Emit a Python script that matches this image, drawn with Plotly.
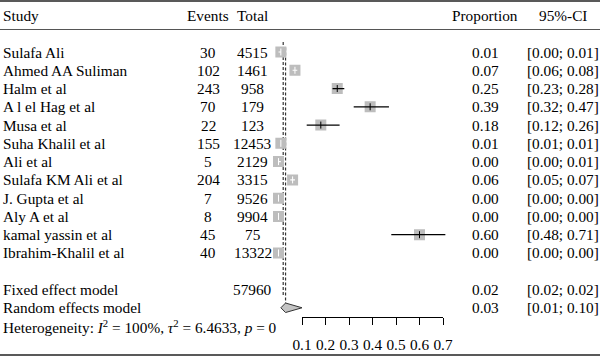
import plotly.graph_objects as go

# ---------------- data ----------------
studies = ["Sulafa Ali", "Ahmed AA Suliman", "Halm et al", "A l el Hag et al", "Musa et al",
           "Suha Khalil et al", "Ali et al", "Sulafa KM Ali et al", "J. Gupta et al",
           "Aly A et al", "kamal yassin et al", "Ibrahim-Khalil et al"]
events = [30, 102, 243, 70, 22, 155, 5, 204, 7, 8, 45, 40]
totals = [4515, 1461, 958, 179, 123, 12453, 2129, 3315, 9526, 9904, 75, 13322]
props = [0.01, 0.07, 0.25, 0.39, 0.18, 0.01, 0.00, 0.06, 0.00, 0.00, 0.60, 0.00]
ci_lo = [0.00, 0.06, 0.23, 0.32, 0.12, 0.01, 0.00, 0.05, 0.00, 0.00, 0.48, 0.00]
ci_hi = [0.01, 0.08, 0.28, 0.47, 0.26, 0.01, 0.01, 0.07, 0.00, 0.00, 0.71, 0.00]

model_names = ["Fixed effect model", "Random effects model"]
model_total = [57960, None]
model_est = [0.02, 0.03]
model_lo = [0.02, 0.01]
model_hi = [0.02, 0.10]

heterogeneity = ("Heterogeneity: <i>I</i><sup>2</sup> = 100%, "
                 "<i>τ</i><sup>2</sup> = 6.4633, <i>p</i> = 0")
axis_ticks = [0.1, 0.2, 0.3, 0.4, 0.5, 0.6, 0.7]
headers = ["Study", "Events", "Total", "Proportion", "95%-CI"]

# ---------------- layout helpers ----------------
W, H = 600, 356
FONT = "Liberation Serif, Times New Roman, serif"
FS = 15.3
ROW0, ROWH = 52.0, 18.27          # pixel y of first study row, row height


def px(x):
    return x / W


def py(y):
    return 1 - y / H


n = len(studies)
rows = list(range(n))
fixed_row = n + 1
random_row = n + 2
het_row = n + 3
header_row = -2

ZERO, SCALE = 278.5, 235.0        # pixel of proportion 0, pixels per unit
xr = [-0.05, 0.75]
x_dom = [px(ZERO + SCALE * xr[0]), px(ZERO + SCALE * xr[1])]
ax2_dom = [px(ZERO + SCALE * axis_ticks[0]), px(ZERO + SCALE * axis_ticks[-1])]
yr = [(H - ROW0) / ROWH, -ROW0 / ROWH]

BOX = 11
half_box = (BOX / 2) / SCALE

fig = go.Figure()

# dashed reference lines (fixed and random estimates)
fig.add_trace(go.Scatter(x=[model_est[0], model_est[0]], y=[-0.55, fixed_row + 0.4],
                         mode="lines", line=dict(color="#333", width=1.2, dash="3px,2px"),
                         hoverinfo="skip", showlegend=False))
fig.add_trace(go.Scatter(x=[model_est[1], model_est[1]], y=[-0.25, random_row - 0.25],
                         mode="lines", line=dict(color="#333", width=1.2, dash="3px,2px"),
                         hoverinfo="skip", showlegend=False))

# study boxes
fig.add_trace(go.Scatter(x=props, y=rows, mode="markers",
                         marker=dict(symbol="square", size=BOX, color="#bdbdbd",
                                     line=dict(width=0)),
                         hoverinfo="skip", showlegend=False))

# confidence intervals (white when inside the box)
for i in range(n):
    inside = ci_lo[i] >= props[i] - half_box and ci_hi[i] <= props[i] + half_box
    col = "white" if inside else "black"
    fig.add_trace(go.Scatter(x=[ci_lo[i], ci_hi[i]], y=[rows[i], rows[i]], mode="lines",
                             line=dict(color=col, width=1.2),
                             hoverinfo="skip", showlegend=False))
    fig.add_trace(go.Scatter(x=[props[i]], y=[rows[i]], mode="markers",
                             marker=dict(symbol="line-ns", size=5,
                                         line=dict(color=col, width=1)),
                             hoverinfo="skip", showlegend=False))

# diamonds
dh = 0.26
for j, r in enumerate([fixed_row, random_row]):
    fig.add_trace(go.Scatter(
        x=[model_lo[j], model_est[j], model_hi[j], model_est[j], model_lo[j]],
        y=[r, r - dh, r, r + dh, r],
        mode="lines", fill="toself", fillcolor="#c4c4c4",
        line=dict(color="#333", width=1 if model_hi[j] > model_lo[j] else 0),
        hoverinfo="skip", showlegend=False))

# dummy trace so that the visible axis is drawn
fig.add_trace(go.Scatter(x=[axis_ticks[0], axis_ticks[-1]], y=[random_row, random_row],
                         xaxis="x2", mode="markers", marker=dict(opacity=0),
                         hoverinfo="skip", showlegend=False))

# ---------------- text columns ----------------
ann = []
col_x = {"Study": (1, "left"), "Events": (208, "center"), "Total": (252.5, "center"),
         "Proportion": (485, "center"), "95%-CI": (562.5, "center")}


def txt(s, xpix, anchor, row):
    ann.append(dict(text=s, x=px(xpix), y=row, xref="paper", yref="y",
                    xanchor=anchor, yanchor="middle", showarrow=False,
                    font=dict(family=FONT, size=FS, color="black")))


for h in headers:
    txt(h, col_x[h][0], col_x[h][1], header_row)

for i in range(n):
    txt(studies[i], 1, "left", rows[i])
    txt(str(events[i]), col_x["Events"][0], "center", rows[i])
    txt(str(totals[i]), col_x["Total"][0], "center", rows[i])
    txt(f"{props[i]:.2f}", col_x["Proportion"][0], "center", rows[i])
    txt(f"[{ci_lo[i]:.2f}; {ci_hi[i]:.2f}]", col_x["95%-CI"][0], "center", rows[i])

for j, r in enumerate([fixed_row, random_row]):
    txt(model_names[j], 1, "left", r)
    if model_total[j] is not None:
        txt(str(model_total[j]), col_x["Total"][0], "center", r)
    txt(f"{model_est[j]:.2f}", col_x["Proportion"][0], "center", r)
    txt(f"[{model_lo[j]:.2f}; {model_hi[j]:.2f}]", col_x["95%-CI"][0], "center", r)

txt(heterogeneity, 1, "left", het_row)

# horizontal rules
shapes = [
    dict(type="line", xref="paper", yref="paper", x0=0, x1=1, y0=py(1), y1=py(1),
         line=dict(color="#222", width=1.5)),
    dict(type="line", xref="paper", yref="paper", x0=0, x1=1, y0=py(29.5), y1=py(29.5),
         line=dict(color="#555", width=1.2)),
    dict(type="line", xref="paper", yref="paper", x0=0, x1=1, y0=py(355), y1=py(355),
         line=dict(color="#222", width=1.5)),
]

fig.update_layout(
    width=W, height=H, margin=dict(l=0, r=0, t=0, b=0, pad=0, autoexpand=False),
    paper_bgcolor="white", plot_bgcolor="rgba(0,0,0,0)",
    showlegend=False, annotations=ann, shapes=shapes,
    xaxis=dict(domain=x_dom, range=xr, visible=False, fixedrange=True),
    xaxis2=dict(domain=ax2_dom, range=[axis_ticks[0], axis_ticks[-1]], anchor="free",
                position=py(317.3), showline=True, linecolor="black", linewidth=1,
                ticks="outside", ticklen=7, tickcolor="black", tickwidth=1,
                tickvals=axis_ticks, ticktext=[f"{t:g}" for t in axis_ticks],
                ticklabelstandoff=6, showgrid=False, zeroline=False,
                tickfont=dict(family=FONT, size=FS, color="black"), fixedrange=True),
    yaxis=dict(domain=[0, 1], range=yr, visible=False, fixedrange=True),
)

fig.write_html("out.html", config={"displayModeBar": False, "staticPlot": True},
               post_script="document.body.style.margin='0px';"
                           "document.body.style.overflow='hidden';")
